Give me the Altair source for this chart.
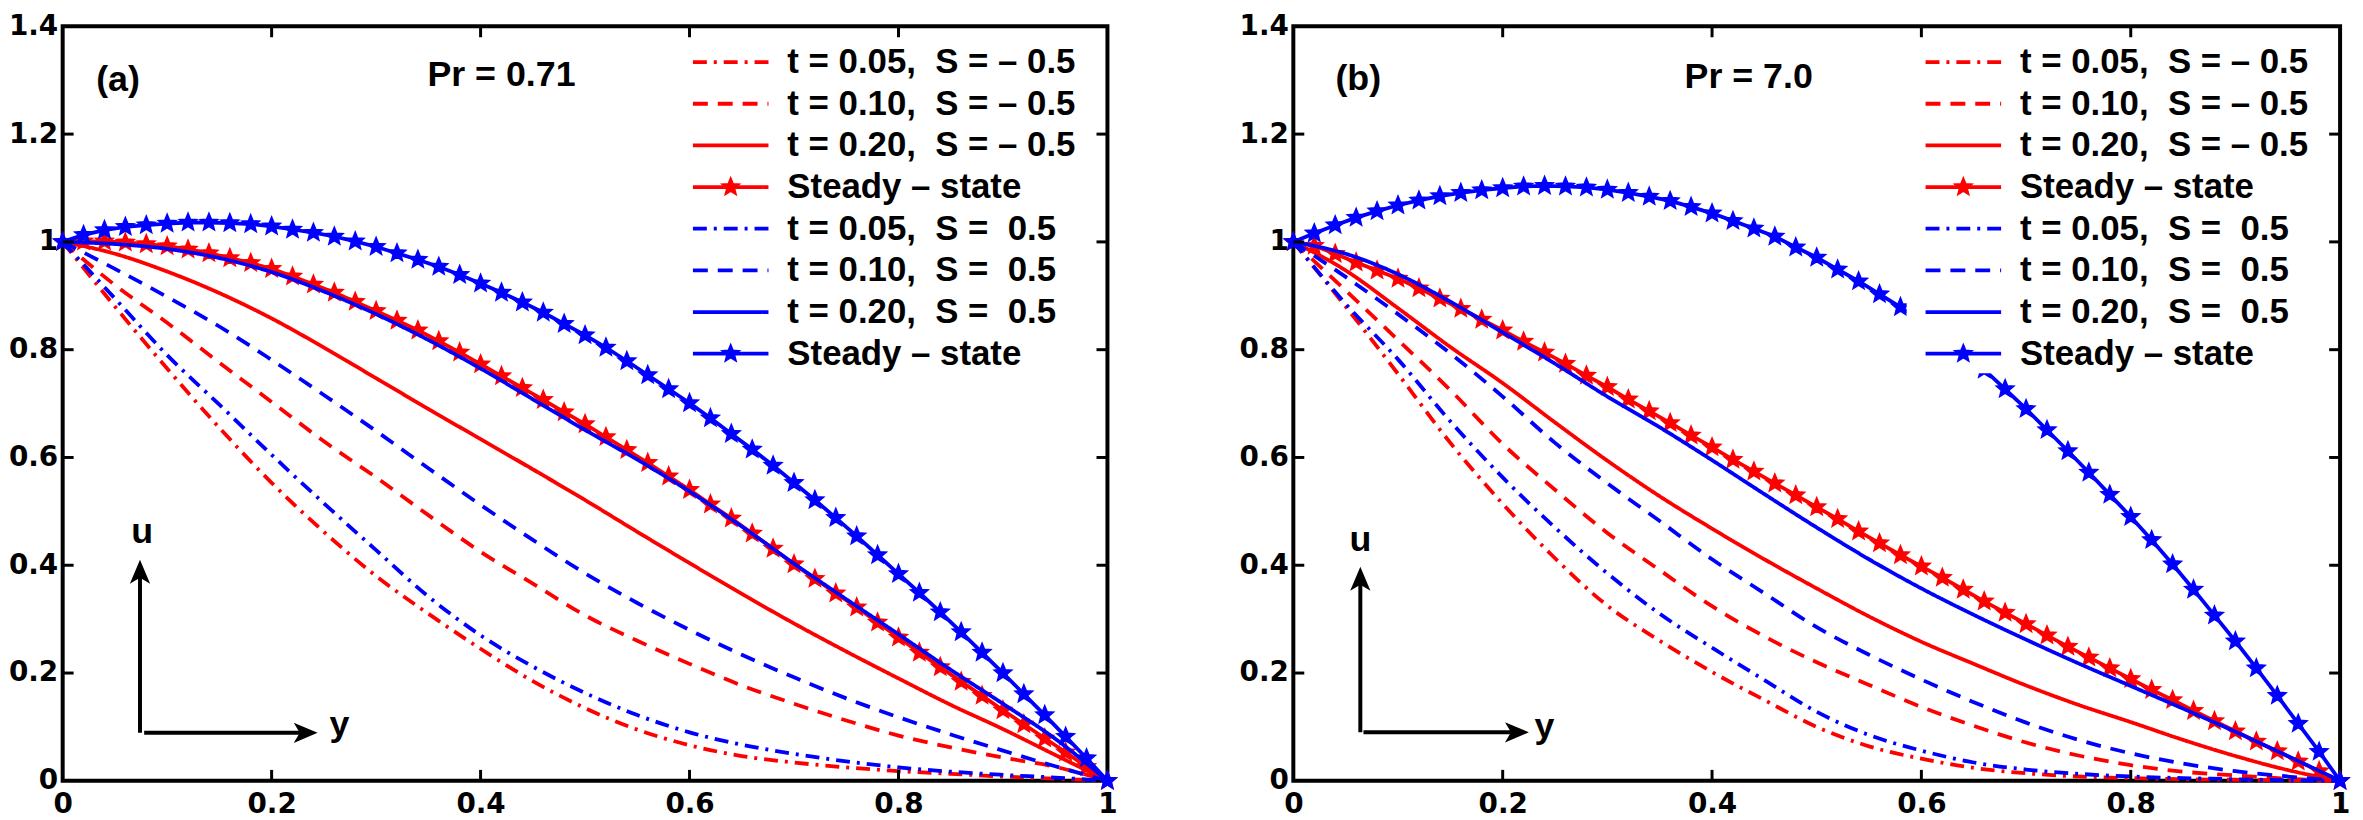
import altair as alt
import pandas as pd

# ---------------- data ----------------
X_T = [0.00, 0.05, 0.10, 0.15, 0.20, 0.25, 0.30, 0.35, 0.40, 0.45, 0.50,
       0.55, 0.60, 0.65, 0.70, 0.75, 0.80, 0.85, 0.90, 0.95, 1.00]
X_S = [0.00, 0.02, 0.04, 0.06, 0.08, 0.10, 0.12, 0.14, 0.16, 0.18,
       0.20, 0.22, 0.24, 0.26, 0.28, 0.30, 0.32, 0.34, 0.36, 0.38,
       0.40, 0.42, 0.44, 0.46, 0.48, 0.50, 0.52, 0.54, 0.56, 0.58,
       0.60, 0.62, 0.64, 0.66, 0.68, 0.70, 0.72, 0.74, 0.76, 0.78,
       0.80, 0.82, 0.84, 0.86, 0.88, 0.90, 0.92, 0.94, 0.96, 0.98, 1.00]

A_RED_T005 = [1.000, 0.880, 0.765, 0.655, 0.553, 0.462, 0.380, 0.310, 0.245, 0.185, 0.135,
              0.095, 0.066, 0.046, 0.034, 0.025, 0.018, 0.013, 0.008, 0.004, 0.000]
A_RED_T010 = [1.000, 0.920, 0.850, 0.776, 0.703, 0.630, 0.563, 0.493, 0.425, 0.366, 0.307,
              0.260, 0.217, 0.177, 0.143, 0.112, 0.084, 0.062, 0.043, 0.026, 0.000]
A_RED_T020 = [1.000, 0.978, 0.945, 0.905, 0.858, 0.804, 0.747, 0.690, 0.634, 0.578, 0.521,
              0.462, 0.404, 0.347, 0.292, 0.240, 0.190, 0.141, 0.096, 0.048, 0.000]
A_BLU_T005 = [1.000, 0.895, 0.790, 0.698, 0.605, 0.515, 0.428, 0.342, 0.270, 0.212, 0.163,
              0.122, 0.090, 0.067, 0.050, 0.036, 0.025, 0.017, 0.011, 0.006, 0.000]
A_BLU_T010 = [1.000, 0.950, 0.898, 0.843, 0.781, 0.716, 0.649, 0.580, 0.512, 0.447, 0.385,
              0.330, 0.280, 0.234, 0.192, 0.153, 0.118, 0.086, 0.056, 0.027, 0.000]
A_BLU_T020 = [1.000, 0.996, 0.987, 0.970, 0.944, 0.908, 0.866, 0.818, 0.765, 0.708, 0.651,
              0.596, 0.537, 0.472, 0.403, 0.337, 0.272, 0.206, 0.143, 0.078, 0.000]
A_RED_STEADY = [1.000, 1.001, 1.001, 0.999, 0.996, 0.992, 0.986, 0.979, 0.970, 0.961,
                0.950, 0.936, 0.921, 0.906, 0.889, 0.872, 0.854, 0.836, 0.816, 0.795,
                0.773, 0.751, 0.729, 0.707, 0.684, 0.662, 0.638, 0.614, 0.590, 0.565,
                0.540, 0.513, 0.487, 0.459, 0.431, 0.402, 0.375, 0.348, 0.322, 0.294,
                0.266, 0.238, 0.211, 0.184, 0.158, 0.131, 0.105, 0.079, 0.053, 0.026, 0.000]
A_BLU_STEADY = [1.000, 1.013, 1.022, 1.028, 1.031, 1.034, 1.036, 1.036, 1.035, 1.033,
                1.029, 1.023, 1.017, 1.010, 1.001, 0.991, 0.979, 0.967, 0.954, 0.939,
                0.923, 0.906, 0.888, 0.869, 0.848, 0.827, 0.804, 0.779, 0.753, 0.727,
                0.701, 0.673, 0.644, 0.615, 0.585, 0.553, 0.521, 0.488, 0.454, 0.419,
                0.384, 0.349, 0.313, 0.276, 0.238, 0.200, 0.161, 0.122, 0.082, 0.042, 0.000]

B_RED_T005 = [1.000, 0.880, 0.755, 0.627, 0.514, 0.413, 0.325, 0.260, 0.202, 0.150, 0.100,
              0.064, 0.041, 0.024, 0.014, 0.008, 0.005, 0.003, 0.002, 0.001, 0.000]
B_RED_T010 = [1.000, 0.910, 0.818, 0.725, 0.625, 0.540, 0.460, 0.391, 0.324, 0.268, 0.220,
              0.178, 0.137, 0.102, 0.071, 0.047, 0.029, 0.017, 0.010, 0.004, 0.000]
B_RED_T020 = [1.000, 0.947, 0.877, 0.805, 0.738, 0.665, 0.594, 0.528, 0.468, 0.411, 0.357,
              0.305, 0.258, 0.217, 0.177, 0.141, 0.109, 0.076, 0.046, 0.020, 0.000]
B_BLU_T005 = [1.000, 0.885, 0.782, 0.667, 0.563, 0.470, 0.385, 0.310, 0.247, 0.187, 0.128,
              0.085, 0.056, 0.034, 0.021, 0.013, 0.008, 0.005, 0.003, 0.001, 0.000]
B_BLU_T010 = [1.000, 0.935, 0.866, 0.793, 0.713, 0.627, 0.552, 0.482, 0.411, 0.348, 0.285,
              0.234, 0.188, 0.146, 0.108, 0.076, 0.051, 0.032, 0.018, 0.008, 0.000]
B_BLU_T020 = [1.000, 0.978, 0.940, 0.889, 0.832, 0.774, 0.713, 0.656, 0.595, 0.532, 0.470,
              0.411, 0.357, 0.308, 0.262, 0.218, 0.176, 0.134, 0.091, 0.046, 0.000]
B_RED_STEADY = [1.000, 0.993, 0.978, 0.962, 0.947, 0.932, 0.914, 0.895, 0.876, 0.856,
                0.836, 0.815, 0.795, 0.774, 0.752, 0.731, 0.708, 0.686, 0.664, 0.641,
                0.619, 0.596, 0.574, 0.552, 0.530, 0.508, 0.486, 0.463, 0.441, 0.419,
                0.398, 0.377, 0.355, 0.333, 0.312, 0.291, 0.270, 0.249, 0.229, 0.209,
                0.189, 0.169, 0.150, 0.130, 0.111, 0.092, 0.073, 0.055, 0.036, 0.018, 0.000]
B_BLU_STEADY = [1.000, 1.016, 1.031, 1.045, 1.057, 1.068, 1.077, 1.085, 1.091, 1.096,
                1.100, 1.103, 1.104, 1.103, 1.101, 1.097, 1.091, 1.084, 1.076, 1.065,
                1.053, 1.039, 1.025, 1.010, 0.990, 0.971, 0.949, 0.927, 0.903, 0.879,
                0.853, 0.826, 0.796, 0.763, 0.727, 0.690, 0.651, 0.612, 0.572, 0.531,
                0.490, 0.447, 0.402, 0.355, 0.307, 0.259, 0.209, 0.158, 0.106, 0.054, 0.000]

X_TICKS = [0, 0.2, 0.4, 0.6, 0.8, 1]
Y_TICKS = [0, 0.2, 0.4, 0.6, 0.8, 1, 1.2, 1.4]
INNER_X = [0.2, 0.4, 0.6, 0.8]
INNER_Y = [0.2, 0.4, 0.6, 0.8, 1.0, 1.2]

LEGEND_LABELS = [
    "t = 0.05,\u00a0\u00a0S = \u2013 0.5",
    "t = 0.10,\u00a0\u00a0S = \u2013 0.5",
    "t = 0.20,\u00a0\u00a0S = \u2013 0.5",
    "Steady \u2013 state",
    "t = 0.05,\u00a0\u00a0S =\u00a0\u00a00.5",
    "t = 0.10,\u00a0\u00a0S =\u00a0\u00a00.5",
    "t = 0.20,\u00a0\u00a0S =\u00a0\u00a00.5",
    "Steady \u2013 state",
]

PANEL_LABELS_A = ["(a)", "Pr = 0.71"]
PANEL_LABELS_B = ["(b)", "Pr = 7.0"]
ANN_A = {"x": [0.053, 0.420], "y": [1.300, 1.309]}
ANN_B = {"x": [0.062, 0.435], "y": [1.303, 1.305]}
ARROW_A = {"vx": 0.074, "vy0": 0.089, "vy1": 0.410, "hx0": 0.078, "hx1": 0.244, "hy": 0.089,
           "ux": 0.076, "uy": 0.461, "yx": 0.265, "yy": 0.104}
ARROW_B = {"vx": 0.064, "vy0": 0.090, "vy1": 0.397, "hx0": 0.067, "hx1": 0.225, "hy": 0.090,
           "ux": 0.064, "uy": 0.446, "yx": 0.240, "yy": 0.100}

# ---------------- styling ----------------
RED = "#ff0000"
BLUE = "#0000ff"
DASH = {"dd": [14, 7, 3, 7], "da": [15, 10], "so": [1, 0], "st": [1, 0]}
LEGEND_STYLE = [(RED, "dd"), (RED, "da"), (RED, "so"), (RED, "st"),
                (BLUE, "dd"), (BLUE, "da"), (BLUE, "so"), (BLUE, "st")]
LW = 3.8
STAR = 300
H = 759
W_A = 1051
W_B = 1053
TXT_FONT = "Liberation Sans"
TICK_FONT = "DejaVu Sans"
STAR_PATH = ("M0,-1L0.26,-0.36L0.95,-0.31L0.42,0.14L0.59,0.81L0,0.44"
             "L-0.59,0.81L-0.42,0.14L-0.95,-0.31L-0.26,-0.36Z")
UP_HEAD = "M0,-1L0.85,1L0,0.5L-0.85,1Z"
RIGHT_HEAD = "M1,0L-1,0.85L-0.5,0L-1,-0.85Z"


def make_panel(W, red_t, blu_t, red_st, blu_st, labels, ann, arr):
    sx = alt.Scale(domain=[0, 1], nice=False, zero=False)
    sy = alt.Scale(domain=[0, 1.4], nice=False, zero=False)
    ax = alt.Axis(values=X_TICKS, format="~g", ticks=False, domain=False,
                  grid=False, labelFont=TICK_FONT, labelFontWeight="bold", labelFontSize=28,
                  labelColor="black", labelPadding=10, labelAngle=0, labelFlush=False,
                  title=None)
    ay = alt.Axis(values=Y_TICKS, format="~g", ticks=False, domain=False,
                  grid=False, labelFont=TICK_FONT, labelFontWeight="bold", labelFontSize=28,
                  labelColor="black", labelPadding=5, title=None)

    def X(f):
        return alt.X(f, type="quantitative", scale=sx, axis=ax)

    def Y(f):
        return alt.Y(f, type="quantitative", scale=sy, axis=ay)

    def px(p):
        return p / W

    def py(p):
        return 1.4 * (1 - p / H)

    layers = []
    for color, group, steady in [(RED, red_t, red_st), (BLUE, blu_t, blu_st)]:
        for key, vals in zip(["dd", "da", "so"], group):
            df = pd.DataFrame({"x": X_T, "u": vals})
            layers.append(alt.Chart(df).mark_line(color=color, strokeWidth=LW,
                                                   strokeDash=DASH[key],
                                                   interpolate="monotone").encode(
                x=X("x"), y=Y("u")))
        df = pd.DataFrame({"x": X_S, "u": steady})
        layers.append(alt.Chart(df).mark_line(color=color, strokeWidth=LW).encode(
            x=X("x"), y=Y("u")))
        layers.append(alt.Chart(df).mark_point(shape=STAR_PATH, filled=True, size=STAR,
                                               color=color, stroke=color, strokeWidth=2,
                                               opacity=1).encode(
            x=X("x"), y=Y("u")))

    # legend background (opaque, no border)
    box = pd.DataFrame({"x0": [px(W - 436)], "x1": [px(W - 3)],
                        "y0": [py(4)], "y1": [py(349)]})
    layers.append(alt.Chart(box).mark_rect(color="white").encode(
        x=X("x0"), x2=alt.X2("x1"), y=Y("y0"), y2=alt.Y2("y1")))
    for i, (color, key) in enumerate(LEGEND_STYLE):
        ry = py(36 + 41.9 * i)
        seg = pd.DataFrame({"x0": [px(W - 417)], "x1": [px(W - 341)], "y": [ry],
                            "xm": [px(W - 379)], "xt": [px(W - 322)],
                            "label": [LEGEND_LABELS[i]]})
        layers.append(alt.Chart(seg).mark_rule(color=color, strokeWidth=LW,
                                               strokeDash=DASH[key]).encode(
            x=X("x0"), x2=alt.X2("x1"), y=Y("y")))
        if key == "st":
            layers.append(alt.Chart(seg).mark_point(shape=STAR_PATH, filled=True, size=STAR,
                                                    color=color, stroke=color, strokeWidth=2,
                                                    opacity=1).encode(
                x=X("xm"), y=Y("y")))
        layers.append(alt.Chart(seg).mark_text(align="left", baseline="middle", font=TXT_FONT,
                                               fontWeight="bold", fontSize=35,
                                               color="black").encode(
            x=X("xt"), y=Y("y"), text="label:N"))

    # inward ticks on all four sides
    tl = 11
    tx = pd.DataFrame({"v": INNER_X, "a": [0.0] * 4, "b": [py(H - tl)] * 4,
                       "c": [1.4] * 4, "d": [py(tl)] * 4})
    ty = pd.DataFrame({"v": INNER_Y, "a": [0.0] * 6, "b": [px(tl)] * 6,
                       "c": [1.0] * 6, "d": [px(W - tl)] * 6})
    layers.append(alt.Chart(tx).mark_rule(color="black", strokeWidth=3).encode(
        x=X("v"), y=Y("a"), y2=alt.Y2("b")))
    layers.append(alt.Chart(tx).mark_rule(color="black", strokeWidth=3).encode(
        x=X("v"), y=Y("c"), y2=alt.Y2("d")))
    layers.append(alt.Chart(ty).mark_rule(color="black", strokeWidth=3).encode(
        y=Y("v"), x=X("a"), x2=alt.X2("b")))
    layers.append(alt.Chart(ty).mark_rule(color="black", strokeWidth=3).encode(
        y=Y("v"), x=X("c"), x2=alt.X2("d")))

    # panel labels
    ann_df = pd.DataFrame({"label": labels, "x": ann["x"], "y": ann["y"]})
    layers.append(alt.Chart(ann_df).mark_text(align="center", baseline="middle", font=TXT_FONT,
                                              fontWeight="bold", fontSize=36,
                                              color="black").encode(
        x=X("x"), y=Y("y"), text="label:N"))

    # u / y arrows
    v_df = pd.DataFrame({"x": [arr["vx"]], "y0": [arr["vy0"]], "y1": [arr["vy1"]]})
    h_df = pd.DataFrame({"x0": [arr["hx0"]], "x1": [arr["hx1"]], "y": [arr["hy"]]})
    layers.append(alt.Chart(v_df).mark_rule(color="black", strokeWidth=4, y2Offset=8).encode(
        x=X("x"), y=Y("y0"), y2=alt.Y2("y1")))
    layers.append(alt.Chart(h_df).mark_rule(color="black", strokeWidth=4, x2Offset=-8).encode(
        x=X("x0"), x2=alt.X2("x1"), y=Y("y")))
    layers.append(alt.Chart(v_df).mark_point(shape=UP_HEAD, filled=True, size=576,
                                             color="black", opacity=1, yOffset=12).encode(
        x=X("x"), y=Y("y1")))
    layers.append(alt.Chart(h_df).mark_point(shape=RIGHT_HEAD, filled=True, size=576,
                                             color="black", opacity=1, xOffset=-12).encode(
        x=X("x1"), y=Y("y")))
    uy_df = pd.DataFrame({"label": ["u", "y"], "x": [arr["ux"], arr["yx"]],
                          "y": [arr["uy"], arr["yy"]]})
    layers.append(alt.Chart(uy_df).mark_text(align="center", baseline="middle", font=TXT_FONT,
                                             fontWeight="bold", fontSize=36,
                                             color="black").encode(
        x=X("x"), y=Y("y"), text="label:N"))

    return alt.layer(*layers).properties(width=W, height=H)


panel_a = make_panel(W_A, [A_RED_T005, A_RED_T010, A_RED_T020],
                     [A_BLU_T005, A_BLU_T010, A_BLU_T020],
                     A_RED_STEADY, A_BLU_STEADY, PANEL_LABELS_A, ANN_A, ARROW_A)
panel_b = make_panel(W_B, [B_RED_T005, B_RED_T010, B_RED_T020],
                     [B_BLU_T005, B_BLU_T010, B_BLU_T020],
                     B_RED_STEADY, B_BLU_STEADY, PANEL_LABELS_B, ANN_B, ARROW_B)

chart = alt.hconcat(panel_a, panel_b, spacing=187, bounds="flush").properties(
    padding={"left": -2, "top": 0, "right": 0, "bottom": 0}
).configure_view(stroke="black", strokeWidth=4)

chart.save("out.html", embed_options={"renderer": "svg", "actions": False})
